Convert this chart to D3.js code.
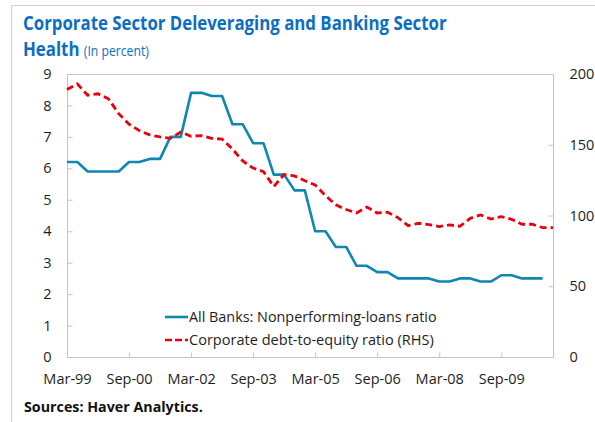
<!DOCTYPE html>
<html>
<head>
<meta charset="utf-8">
<script src="https://cdn.jsdelivr.net/npm/d3@7"></script>
<style>
  body { margin: 0; background: #fff; }
  text { font-family: 'Open Sans', 'Noto Sans', sans-serif; }
</style>
</head>
<body>
<div id="chart"></div>
<script>
// quarterly categories, Mar-99 .. Dec-10
var quarters = [
  'Mar-99', 'Jun-99', 'Sep-99', 'Dec-99', 'Mar-00', 'Jun-00', 'Sep-00', 'Dec-00',
  'Mar-01', 'Jun-01', 'Sep-01', 'Dec-01', 'Mar-02', 'Jun-02', 'Sep-02', 'Dec-02',
  'Mar-03', 'Jun-03', 'Sep-03', 'Dec-03', 'Mar-04', 'Jun-04', 'Sep-04', 'Dec-04',
  'Mar-05', 'Jun-05', 'Sep-05', 'Dec-05', 'Mar-06', 'Jun-06', 'Sep-06', 'Dec-06',
  'Mar-07', 'Jun-07', 'Sep-07', 'Dec-07', 'Mar-08', 'Jun-08', 'Sep-08', 'Dec-08',
  'Mar-09', 'Jun-09', 'Sep-09', 'Dec-09', 'Mar-10', 'Jun-10', 'Sep-10', 'Dec-10'
]
var xTickLabels = ['Mar-99', 'Sep-00', 'Mar-02', 'Sep-03', 'Mar-05', 'Sep-06', 'Mar-08', 'Sep-09']

// All banks: nonperforming-loans ratio (LHS, percent) - ends Sep-10
var nplRatio = [
  6.2, 6.2, 5.9, 5.9, 5.9, 5.9, 6.2, 6.2, 6.3, 6.3, 7.0, 7.0,
  8.4, 8.4, 8.3, 8.3, 7.4, 7.4, 6.8, 6.8, 5.8, 5.8, 5.3, 5.3,
  4.0, 4.0, 3.5, 3.5, 2.9, 2.9, 2.7, 2.7, 2.5, 2.5, 2.5, 2.5,
  2.4, 2.4, 2.5, 2.5, 2.4, 2.4, 2.6, 2.6, 2.5, 2.5, 2.5
]
// Corporate debt-to-equity ratio (RHS, percent)
var debtEquity = [
  189, 193, 185, 186, 182.5, 172, 164.5, 160, 157, 155.5, 154.5, 159,
  156, 156.5, 154.5, 154, 147, 138.5, 133.5, 131, 120.5, 129, 128, 124.6,
  121.6, 114, 107.5, 104.2, 101.8, 106, 101.8, 102.3, 98.5, 92.8, 94.5, 93.6,
  92.2, 93.3, 92.4, 98, 100.4, 97.5, 99.2, 97.3, 93.8, 93.8, 91.4, 91.5
]
var leftTicks = [0, 1, 2, 3, 4, 5, 6, 7, 8, 9]
var rightTicks = [0, 50, 100, 150, 200]

var W = 595, H = 422
var margin = { top: 74, right: 42, bottom: 65, left: 67 }
var BLUE = '#0f87b3', RED = '#e8000d', AXIS = '#c4c4c4', INK = '#1e1e1e'

var svg = d3.select('#chart').append('svg')
  .attr('width', W)
  .attr('height', H)

// outer frame (top and left edges)
svg.append('path')
  .attr('d', 'M11.5,' + H + 'V5.5H' + W)
  .attr('fill', 'none')
  .attr('stroke', '#d0d0d0')

function fitText (sel, target) {
  var w = sel.node().getComputedTextLength()
  var fs = parseFloat(sel.attr('font-size'))
  sel.attr('font-size', fs * target / w)
  return fs * target / w
}

// title: keep the cap height, squeeze horizontally to the reference width
var title = svg.append('g').attr('fill', '#0a6fc2')
var t1 = title.append('text')
  .attr('font-size', 20).attr('font-weight', 'bold')
  .text('Corporate Sector Deleveraging and Banking Sector')
var sx = 424 / t1.node().getComputedTextLength()
t1.attr('transform', 'translate(23,30) scale(' + sx + ',1)')

var t2 = title.append('text')
  .attr('transform', 'translate(23,56) scale(' + sx + ',1)')
t2.append('tspan')
  .attr('font-size', 20).attr('font-weight', 'bold')
  .text('Health ')
t2.append('tspan')
  .attr('font-size', 14.5)
  .text('(In percent)')

var w = W - margin.left - margin.right
var h = H - margin.top - margin.bottom
var g = svg.append('g')
  .attr('transform', 'translate(' + margin.left + ',' + margin.top + ')')

var x = d3.scalePoint().domain(quarters).range([0, w])
var yL = d3.scaleLinear().domain([0, 9]).range([h, 0])
var yR = d3.scaleLinear().domain([0, 200]).range([h, 0])

// plot border
g.append('rect')
  .attr('x', 0.5).attr('y', 0.5)
  .attr('width', w).attr('height', h)
  .attr('fill', 'none')
  .attr('stroke', AXIS)

function styleAxis (sel) {
  sel.select('.domain').remove()
  sel.selectAll('line').attr('stroke', AXIS)
  sel.selectAll('text')
    .attr('fill', INK)
    .style('font-size', '14.5px')
    .style('font-family', "'Open Sans', 'Noto Sans', sans-serif")
}

g.append('g')
  .attr('class', 'x axis')
  .attr('transform', 'translate(0,' + (h + 0.5) + ')')
  .call(d3.axisBottom(x).tickValues(xTickLabels).tickSize(-5).tickPadding(16))
  .call(styleAxis)

g.append('g')
  .attr('class', 'y axis')
  .attr('transform', 'translate(0.5,0)')
  .call(d3.axisLeft(yL).tickValues(leftTicks).tickSize(-5).tickPadding(16))
  .call(styleAxis)

g.append('g')
  .attr('class', 'y2 axis')
  .attr('transform', 'translate(' + (w + 0.5) + ',0)')
  .call(d3.axisRight(yR).tickValues(rightTicks).tickSize(-5).tickPadding(16))
  .call(styleAxis)

var data = g.append('g').attr('class', 'data')

data.append('path')
  .datum(nplRatio)
  .attr('fill', 'none')
  .attr('stroke', BLUE)
  .attr('stroke-width', 2.6)
  .attr('stroke-linejoin', 'round')
  .attr('d', d3.line()
    .x(function (d, i) { return x(quarters[i]) })
    .y(function (d) { return yL(d) }))

data.append('path')
  .datum(debtEquity)
  .attr('fill', 'none')
  .attr('stroke', RED)
  .attr('stroke-width', 2.8)
  .attr('stroke-dasharray', '7,4')
  .attr('d', d3.line()
    .x(function (d, i) { return x(quarters[i]) })
    .y(function (d) { return yR(d) }))

// legend
var legend = [
  { label: 'All Banks: Nonperforming-loans ratio', color: BLUE, dash: null, y: 317, width: 248 },
  { label: 'Corporate debt-to-equity ratio (RHS)', color: RED, dash: '7,3', y: 340, width: 245 }
]
var lg = svg.append('g').attr('class', 'legend')
legend.forEach(function (d) {
  lg.append('line')
    .attr('x1', 165).attr('x2', 188)
    .attr('y1', d.y).attr('y2', d.y)
    .attr('stroke', d.color)
    .attr('stroke-width', 2.6)
    .attr('stroke-dasharray', d.dash)
  var t = lg.append('text')
    .attr('x', 189).attr('y', d.y)
    .attr('dy', '0.35em')
    .attr('font-size', 15)
    .attr('fill', INK)
    .text(d.label)
  fitText(t, d.width)
})

// source note
var src = svg.append('text')
  .attr('x', 24).attr('y', 412)
  .attr('font-size', 14).attr('font-weight', 'bold')
  .attr('fill', '#111')
  .text('Sources: Haver Analytics.')
fitText(src, 179)
</script>
</body>
</html>
